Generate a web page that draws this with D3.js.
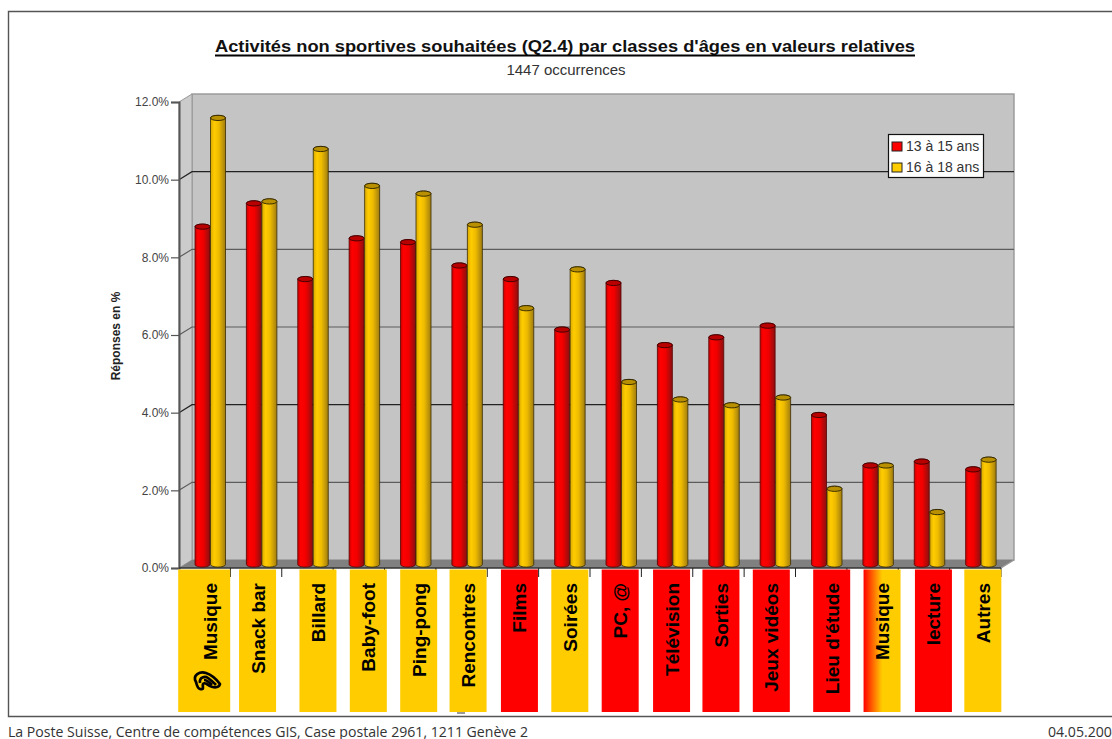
<!DOCTYPE html>
<html lang="fr">
<head>
<meta charset="utf-8">
<title>Activités non sportives souhaitées</title>
<script src="https://cdn.jsdelivr.net/npm/d3@7/dist/d3.min.js"></script>
<style>
  html, body { margin: 0; padding: 0; background: #fff; overflow: hidden; }
  svg { display: block; font-family: "Liberation Sans", Arial, sans-serif; }
</style>
</head>
<body>
<div id="chart"></div>
<script>
const categories = ['Musique', 'Snack bar', 'Billard', 'Baby-foot', 'Ping-pong', 'Rencontres', 'Films', 'Soirées',
  'PC, @', 'Télévision', 'Sorties', 'Jeux vidéos', "Lieu d'étude", 'Musique', 'lecture', 'Autres'];
const seriesNames = ['13 à 15 ans', '16 à 18 ans'];
const young = [8.7, 9.3, 7.35, 8.4, 8.3, 7.7, 7.35, 6.05, 7.25, 5.65, 5.85, 6.15, 3.85, 2.55, 2.65, 2.45];
const old = [11.5, 9.35, 10.7, 9.75, 9.55, 8.75, 6.6, 7.6, 4.7, 4.25, 4.1, 4.3, 1.95, 2.55, 1.35, 2.7];
const yTicks = [0, 2, 4, 6, 8, 10, 12];

const width = 1112;
const height = 739;
const RED = '#ff0000';
const YELLOW = '#ffcc00';

// the label table under the chart does not line up with the bands, it drifts
const labelShift = [0, 1.5, 10.5, 9.5, 8.5, 6.5, 6.5, 5.5, 4.5, 4.5, 2.5, 1.5, 10.5, 9.5, 9.5, 7.5];

const depth = { x: 13, y: 8 };

const x = d3.scaleBand().domain(d3.range(categories.length)).range([179, 1001]);
const xInner = d3.scaleBand().domain([0, 1]).range([16, 47]);
const y = d3.scaleLinear().domain([0, 12]).range([568, 102]);

const svg = d3.select('#chart').append('svg')
  .attr('width', width)
  .attr('height', height)
  .attr('viewBox', [0, 0, width, height]);

const defs = svg.append('defs');

function barGradient(id, stops) {
  const g = defs.append('linearGradient').attr('id', id);
  stops.forEach(([o, c]) => g.append('stop').attr('offset', o).attr('stop-color', c));
}
barGradient('cyl-red', [[0, '#c80000'], [0.2, '#ff0000'], [0.55, '#f00000'], [1, '#8a1010']]);
barGradient('cyl-yellow', [[0, '#d8a800'], [0.25, '#ffcc00'], [0.55, '#eebb00'], [1, '#a07c10']]);
barGradient('label-mix', [[0, RED], [0.5, YELLOW], [1, YELLOW]]);

// page frame, open on the right
svg.append('path')
  .attr('d', `M${width},11.5H8.5V716.5H${width}`)
  .attr('fill', 'none')
  .attr('stroke', '#555')
  .attr('stroke-width', 1.4);

// titles
svg.append('text')
  .attr('x', 215).attr('y', 52)
  .attr('textLength', 700).attr('lengthAdjust', 'spacingAndGlyphs')
  .attr('font-size', 16.5).attr('font-weight', 'bold').attr('fill', '#111')
  .text("Activités non sportives souhaitées (Q2.4) par classes d'âges en valeurs relatives");
svg.append('line')
  .attr('x1', 215).attr('x2', 915).attr('y1', 55.5).attr('y2', 55.5)
  .attr('stroke', '#000').attr('stroke-width', 2);
svg.append('text')
  .attr('x', 566).attr('y', 74.5)
  .attr('text-anchor', 'middle')
  .attr('font-size', 15).attr('fill', '#333')
  .text('1447 occurrences');

// 3d box: back wall, side wall, floor
const left = x.range()[0];
const right = x.range()[1];
const y0 = y(0);
const yTop = y(12);

const box = svg.append('g');
box.append('rect')
  .attr('x', left + depth.x).attr('y', yTop - depth.y)
  .attr('width', right - left).attr('height', y0 - yTop)
  .attr('fill', '#c4c4c4').attr('stroke', '#989898').attr('stroke-width', 1.4);
box.append('path')
  .attr('d', `M${left},${yTop}L${left + depth.x},${yTop - depth.y}V${y0 - depth.y}L${left},${y0}Z`)
  .attr('fill', '#cbcbcb').attr('stroke', '#989898');
box.append('path')
  .attr('d', `M${left},${y0}L${left + depth.x},${y0 - depth.y}H${right + depth.x}L${right},${y0}Z`)
  .attr('fill', '#808080');
box.append('path')
  .attr('d', `M${right},${y0}L${right + depth.x},${y0 - depth.y}`)
  .attr('stroke', '#999').attr('stroke-width', 1.2);

// gridlines on the back wall and their diagonals on the side wall
box.append('g').selectAll('path')
  .data(yTicks.filter((t) => t > 0 && t < 12))
  .join('path')
  .attr('d', (d) => `M${left},${y(d)}L${left + depth.x},${y(d) - depth.y}H${right + depth.x}`)
  .attr('fill', 'none')
  .attr('stroke', (d) => (d === 10 || d === 4 ? '#222' : '#5c5c5c'))
  .attr('stroke-width', 1.2);

// y axis
const axisY = svg.append('g')
  .attr('transform', `translate(${left},0)`)
  .call(d3.axisLeft(y).tickValues(yTicks).tickFormat((d) => `${d.toFixed(1)}%`).tickSize(8).tickPadding(2));
axisY.select('.domain').attr('stroke', '#555').attr('stroke-width', 2);
axisY.selectAll('line').attr('stroke', '#555').attr('stroke-width', 1.2);
axisY.selectAll('text')
  .attr('font-family', '"Liberation Sans", Arial, sans-serif')
  .attr('font-size', 12).attr('fill', '#444');

svg.append('text')
  .attr('transform', 'translate(120,336) rotate(-90)')
  .attr('text-anchor', 'middle')
  .attr('font-size', 12).attr('font-weight', 'bold').attr('fill', '#222')
  .text('Réponses en %');

// x axis: ticks only, the labels are in the table below
const axisX = svg.append('g')
  .attr('transform', `translate(0,${y0})`);
axisX.append('line')
  .attr('x1', left).attr('x2', right)
  .attr('stroke', '#333').attr('stroke-width', 1.4);
axisX.selectAll('.tick')
  .data(d3.range(1, categories.length + 1))
  .join('line')
  .attr('class', 'tick')
  .attr('x1', (d) => left + d * x.bandwidth())
  .attr('x2', (d) => left + d * x.bandwidth())
  .attr('y1', 0).attr('y2', 9)
  .attr('stroke', '#222');

// cylinders
const rows = categories.map((c, i) => ({ i, values: [young[i], old[i]] }));
const ry = 2.6;
const cylTop = (v) => y(v) - 3.5;

function cylinderPath(d) {
  const x0 = x(d.i) + xInner(d.s);
  const w = xInner.bandwidth() - 0.5;
  const top = cylTop(d.v);
  const bottom = cylTop(0);
  const r = w / 2;
  return `M${x0},${top}V${bottom}A${r},${ry} 0 0 0 ${x0 + w},${bottom}V${top}A${r},${ry} 0 0 0 ${x0},${top}Z`;
}

const bars = svg.append('g').selectAll('g')
  .data(rows.flatMap((r) => r.values.map((v, s) => ({ i: r.i, s, v }))))
  .join('g');

bars.append('path')
  .attr('d', cylinderPath)
  .attr('fill', (d) => (d.s === 0 ? 'url(#cyl-red)' : 'url(#cyl-yellow)'))
  .attr('stroke', (d) => (d.s === 0 ? '#5a0000' : '#3a2c00'))
  .attr('stroke-width', 0.8);

bars.append('ellipse')
  .attr('cx', (d) => x(d.i) + xInner(d.s) + (xInner.bandwidth() - 0.5) / 2)
  .attr('cy', (d) => cylTop(d.v))
  .attr('rx', (xInner.bandwidth() - 0.5) / 2)
  .attr('ry', ry)
  .attr('fill', (d) => (d.s === 0 ? '#b80000' : '#b89000'))
  .attr('stroke', (d) => (d.s === 0 ? '#3a0000' : '#2a2000'))
  .attr('stroke-width', 0.9);

// legend
const legend = svg.append('g').attr('transform', 'translate(888.5,134.5)');
legend.append('rect')
  .attr('width', 95).attr('height', 43)
  .attr('fill', '#fff').attr('stroke', '#111').attr('stroke-width', 1.2);
seriesNames.forEach((name, i) => {
  legend.append('rect')
    .attr('x', 3.5).attr('y', 7.5 + i * 21)
    .attr('width', 10).attr('height', 9)
    .attr('fill', i === 0 ? RED : YELLOW)
    .attr('stroke', '#222');
  legend.append('text')
    .attr('x', 17.5).attr('y', 16.5 + i * 21)
    .attr('font-size', 14).attr('fill', '#333')
    .text(name);
});

// label table: colour tells which age class asked for it more
function labelFill(i) {
  if (young[i] === old[i]) return 'url(#label-mix)';
  return young[i] > old[i] ? RED : YELLOW;
}

const labelW = 37;
const labels = svg.append('g').selectAll('g')
  .data(categories.map((c, i) => ({ c, i })))
  .join('g')
  .attr('transform', (d) => `translate(${x(d.i) + x.bandwidth() / 2 + labelShift[d.i]},0)`);

labels.append('rect')
  .attr('x', (d) => (d.i === 0 ? -26.5 : -labelW / 2))
  .attr('y', 569.5)
  .attr('width', (d) => (d.i === 0 ? 52 : labelW))
  .attr('height', 142.5)
  .attr('fill', (d) => labelFill(d.i));

labels.append('text')
  .attr('transform', (d) => `translate(${d.i === 0 ? 12 : 7},583) rotate(-90)`)
  .attr('text-anchor', 'end')
  .attr('font-size', 19).attr('font-weight', 'bold').attr('fill', '#000')
  .text((d) => d.c);

// little ear in front of the first label
svg.append('path')
  .attr('d', 'M196,682C192,675 200,671 206,673C212,675 217,680 220,684C219,688 214,688 210,686C206,684 205,682 203,684C202,687 205,690 200,689C197,688 197,685 196,682ZM200,683C199,677 205,676 208,678C211,680 214,683 216,685M204,680C207,680 210,683 212,685')
  .attr('fill', 'none')
  .attr('stroke', '#000')
  .attr('stroke-width', 2.7)
  .attr('stroke-linejoin', 'round');

// stray bit of a clipped row under Rencontres
svg.append('line')
  .attr('x1', 457).attr('x2', 465).attr('y1', 713).attr('y2', 713)
  .attr('stroke', '#555').attr('stroke-width', 1.2);

// footer
svg.append('text')
  .attr('x', 8).attr('y', 737)
  .attr('font-family', '"Open Sans", sans-serif')
  .attr('font-size', 14.1).attr('fill', '#333')
  .text('La Poste Suisse, Centre de compétences GIS, Case postale 2961, 1211 Genève 2');
svg.append('text')
  .attr('x', 1048).attr('y', 737)
  .attr('font-family', '"Open Sans", sans-serif')
  .attr('font-size', 14.1).attr('fill', '#333')
  .text('04.05.2004');
</script>
</body>
</html>
